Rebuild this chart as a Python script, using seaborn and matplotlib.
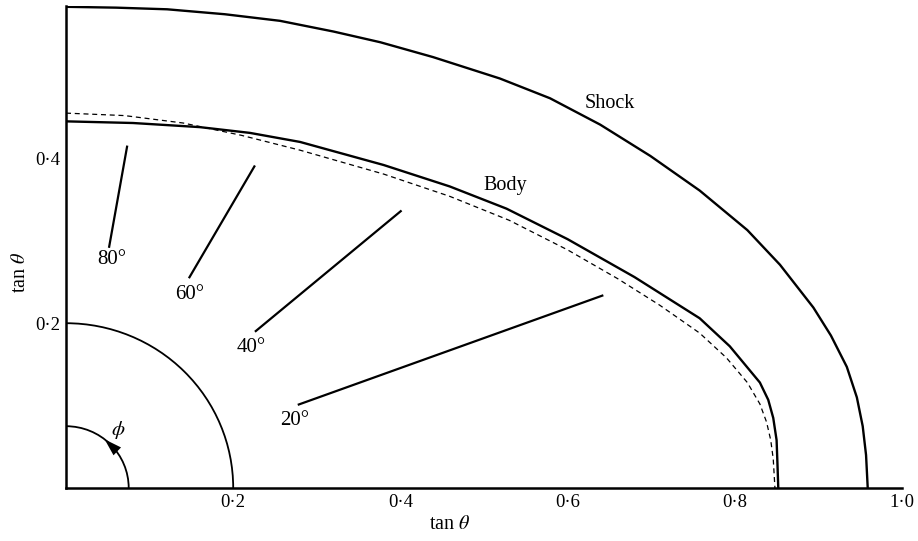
import matplotlib
matplotlib.use("Agg")
import matplotlib.pyplot as plt
from matplotlib.patches import Arc
import numpy as np
import pandas as pd
import seaborn as sns

# Shock wave trace (tan theta coordinates)
shock_x = [0.0, 0.06, 0.121, 0.19, 0.256, 0.32, 0.376, 0.439, 0.519, 0.579,
           0.639, 0.699, 0.758, 0.815, 0.854, 0.894, 0.915, 0.934, 0.946,
           0.953, 0.957, 0.959]
shock_y = [0.584, 0.583, 0.581, 0.575, 0.567, 0.554, 0.541, 0.523, 0.497,
           0.473, 0.441, 0.403, 0.361, 0.313, 0.271, 0.219, 0.185, 0.147,
           0.110, 0.075, 0.040, 0.0]

# Body contour
body_x = [0.0, 0.08, 0.16, 0.22, 0.28, 0.38, 0.459, 0.527, 0.60, 0.68, 0.758,
          0.794, 0.830, 0.840, 0.846, 0.850, 0.851, 0.852]
body_y = [0.445, 0.443, 0.438, 0.431, 0.420, 0.392, 0.366, 0.339, 0.302,
          0.256, 0.206, 0.172, 0.128, 0.107, 0.085, 0.058, 0.030, 0.0]

# Dashed reference contour
dash_x = [0.0, 0.07, 0.14, 0.21, 0.28, 0.38, 0.459, 0.53, 0.60, 0.66, 0.71,
          0.758, 0.79, 0.815, 0.83, 0.838, 0.843, 0.846, 0.848]
dash_y = [0.455, 0.452, 0.443, 0.428, 0.410, 0.381, 0.354, 0.325, 0.289,
          0.254, 0.222, 0.188, 0.158, 0.128, 0.102, 0.080, 0.058, 0.035, 0.0]

# Radial rays at constant phi
ray_angles = [20, 40, 60, 80]
ray_inner = [0.295, 0.295, 0.294, 0.296]
ray_outer = [0.684, 0.524, 0.452, 0.422]
ray_labels = ["20°", "40°", "60°", "80°"]
ray_label_x = [0.274, 0.222, 0.148, 0.055]
ray_label_y = [0.082, 0.171, 0.235, 0.277]

circle_radii = [0.2, 0.075]

x_ticks = [0.2, 0.4, 0.6, 0.8, 1.0]
x_ticklabels = ["0·2", "0·4", "0·6", "0·8", "1·0"]
y_ticks = [0.2, 0.4]
y_ticklabels = ["0·2", "0·4"]

sns.set_theme(style="white")
plt.rcParams["font.family"] = ["Liberation Serif", "DejaVu Serif"]
plt.rcParams["mathtext.fontset"] = "stix"
plt.rcParams["text.color"] = "black"
plt.rcParams["axes.labelcolor"] = "black"

fig = plt.figure(figsize=(9.18, 5.41), dpi=100)
ax = fig.add_axes([66 / 918, 1 - 488 / 541, 836 / 918, 482 / 541])

curves = pd.concat([
    pd.DataFrame({"x": shock_x, "y": shock_y, "curve": "shock"}),
    pd.DataFrame({"x": body_x, "y": body_y, "curve": "body"}),
])
sns.lineplot(data=curves, x="x", y="y", units="curve", estimator=None,
             sort=False, color="black", lw=1.7, ax=ax)
sns.lineplot(x=dash_x, y=dash_y, sort=False, estimator=None, color="black",
             lw=0.9, ax=ax, linestyle=(0, (4, 3)))

for ang, r0, r1, lab, lx, ly in zip(ray_angles, ray_inner, ray_outer,
                                    ray_labels, ray_label_x, ray_label_y):
    t = np.deg2rad(ang)
    ax.plot([r0 * np.cos(t), r1 * np.cos(t)], [r0 * np.sin(t), r1 * np.sin(t)],
            color="black", lw=1.6, solid_capstyle="butt")
    ax.text(lx, ly, lab, fontsize=15, ha="center", va="center")

for r in circle_radii:
    ax.add_patch(Arc((0, 0), 2 * r, 2 * r, theta1=0, theta2=90,
                     color="black", lw=1.3))

# direction of increasing phi on the small arc
r = circle_radii[1]
a0, a1 = np.deg2rad(40), np.deg2rad(52)
ax.annotate("", xy=(r * np.cos(a1), r * np.sin(a1)),
            xytext=(r * np.cos(a0), r * np.sin(a0)),
            arrowprops=dict(arrowstyle="-|>,head_length=0.9,head_width=0.28",
                            color="black", lw=0, mutation_scale=14,
                            shrinkA=0, shrinkB=0))
ax.text(0.062, 0.071, r"$\phi$", fontsize=15, ha="center", va="center")

ax.text(0.651, 0.467, "Shock", fontsize=14.5, ha="center", va="center")
ax.text(0.525, 0.367, "Body", fontsize=14.5, ha="center", va="center")

ax.set_xlim(0, 1.0)
ax.set_ylim(0, 0.585)
ax.set_xticks(x_ticks)
ax.set_xticklabels(x_ticklabels, fontsize=13.5)
ax.set_yticks(y_ticks)
ax.set_yticklabels(y_ticklabels, fontsize=13.5)
ax.tick_params(direction="in", length=7, width=1.4, pad=4, colors="black")

for side in ["top", "right"]:
    ax.spines[side].set_visible(False)
for side in ["left", "bottom"]:
    ax.spines[side].set_linewidth(1.8)
    ax.spines[side].set_color("black")

ax.set_xlabel(r"tan $\theta$", fontsize=14.5)
ax.set_ylabel(r"tan $\theta$", fontsize=14.5)
ax.xaxis.set_label_coords((450 - 66) / 836, -0.055)
ax.yaxis.set_label_coords(-0.043, 0.448)
ax.grid(False)

fig.savefig("out.png", dpi=100)
